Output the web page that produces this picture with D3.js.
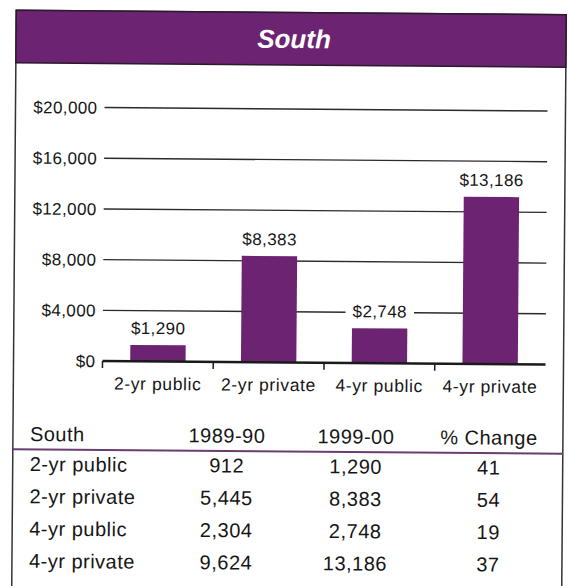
<!DOCTYPE html>
<meta charset="utf-8" />
<style>
  body { margin: 0; background: #fff; }
  text { font-family: "Liberation Sans", Arial, Helvetica, sans-serif; fill: #161616; }
</style>
<svg width="569" height="586"></svg>
<script src="https://d3js.org/d3.v7.min.js"></script>
<script>
    // data
    var categories = ["2-yr public", "2-yr private", "4-yr public", "4-yr private"];
    var tuition8990 = [912, 5445, 2304, 9624];
    var tuition9900 = [1290, 8383, 2748, 13186];
    var pctChange = [41, 54, 19, 37];
    var yTicks = [0, 4000, 8000, 12000, 16000, 20000];
    var tableHeader = ["South", "1989-90", "1999-00", "% Change"];
    var title = "South";

    var svg = d3.select("svg");
    var purple = "#6c2371";

    // the scan is a little tilted, so everything sits in one rotated group
    var root = svg.append("g").attr("transform", "rotate(0.45,290,300)");

    // frame + header band
    root.append("rect")
        .attr("x", 14).attr("y", 12.5)
        .attr("width", 550).attr("height", 620)
        .attr("fill", "none").attr("stroke", "#333").attr("stroke-width", 1.5);

    root.append("rect")
        .attr("x", 14).attr("y", 12.5)
        .attr("width", 550).attr("height", 52.5)
        .attr("fill", purple).attr("stroke", "#2a1a2c").attr("stroke-width", 1.5);

    root.append("text")
        .attr("x", 292).attr("y", 48)
        .attr("text-anchor", "middle")
        .style("font-size", "26px").style("font-weight", "bold").style("font-style", "italic")
        .style("fill", "#fff")
        .text(title);

    // scales
    var x = d3.scaleBand()
        .domain(categories)
        .range([103, 546])
        .paddingInner(0.5)
        .paddingOuter(0.25);

    var y = d3.scaleLinear()
        .domain([0, 20000])
        .range([362.5, 109]);

    var money = function(v) { return "$" + d3.format(",")(v); };

    // gridlines + y labels
    var grid = root.append("g");
    grid.selectAll("line")
        .data(yTicks.slice(1))
        .enter()
        .append("line")
        .attr("x1", 103).attr("x2", 546)
        .attr("y1", function(d) { return y(d); })
        .attr("y2", function(d) { return y(d); })
        .attr("stroke", "#2b2b2b")
        .attr("stroke-width", 1.4);

    grid.selectAll("text")
        .data(yTicks)
        .enter()
        .append("text")
        .attr("x", 96)
        .attr("y", function(d) { return y(d); })
        .attr("dy", "0.36em")
        .attr("text-anchor", "end")
        .style("font-size", "17px").style("letter-spacing", "0.4px")
        .text(money);

    // bars
    var bars = root.append("g");
    bars.selectAll("rect")
        .data(categories)
        .enter()
        .append("rect")
        .attr("x", function(d) { return x(d); })
        .attr("width", x.bandwidth())
        .attr("y", function(d, i) { return y(tuition9900[i]); })
        .attr("height", function(d, i) { return y(0) - y(tuition9900[i]); })
        .attr("fill", purple);

    // value labels, white box so the gridline breaks around them
    var lab = root.append("g").selectAll("g")
        .data(categories)
        .enter()
        .append("g")
        .attr("transform", function(d, i) {
            return "translate(" + (x(d) + x.bandwidth() / 2) + "," + (y(tuition9900[i]) - 11) + ")";
        });

    lab.append("text")
        .attr("text-anchor", "middle")
        .style("font-size", "17px").style("letter-spacing", "0.4px")
        .text(function(d, i) { return money(tuition9900[i]); });

    lab.insert("rect", "text")
        .each(function() {
            var b = this.nextSibling.getBBox();
            d3.select(this)
                .attr("x", b.x - 7).attr("y", b.y)
                .attr("width", b.width + 14).attr("height", b.height);
        })
        .attr("fill", "#fff");

    // x axis baseline + ticks
    var ax = root.append("g");
    ax.append("line")
        .attr("x1", 103).attr("x2", 546)
        .attr("y1", y(0)).attr("y2", y(0))
        .attr("stroke", "#1a1a1a").attr("stroke-width", 2.6);

    ax.selectAll(".tick")
        .data(categories)
        .enter()
        .append("line")
        .attr("class", "tick")
        .attr("x1", function(d) { return x(d) - x.step() * x.paddingInner() / 2; })
        .attr("x2", function(d) { return x(d) - x.step() * x.paddingInner() / 2; })
        .attr("y1", y(0)).attr("y2", y(0) + 7)
        .attr("stroke", "#1a1a1a").attr("stroke-width", 1.5);

    ax.selectAll("text")
        .data(categories)
        .enter()
        .append("text")
        .attr("x", function(d) { return x(d) + x.bandwidth() / 2; })
        .attr("y", 391)
        .attr("text-anchor", "middle")
        .style("font-size", "17.5px").style("letter-spacing", "0.6px")
        .text(function(d) { return d; });

    // table under the chart
    var colX = [31, 228, 357, 490];
    var rows = categories.map(function(c, i) {
        return [c, d3.format(",")(tuition8990[i]), d3.format(",")(tuition9900[i]), pctChange[i]];
    });

    var table = root.append("g").style("font-size", "20px").style("letter-spacing", "0.5px");

    table.selectAll(".head")
        .data(tableHeader)
        .enter()
        .append("text")
        .attr("class", "head")
        .attr("x", function(d, i) { return colX[i]; })
        .attr("y", 443)
        .attr("text-anchor", function(d, i) { return i === 0 ? "start" : "middle"; })
        .text(function(d) { return d; });

    table.append("line")
        .attr("x1", 14).attr("x2", 564)
        .attr("y1", 451.5).attr("y2", 451.5)
        .attr("stroke", "#6b3c70").attr("stroke-width", 2);

    var tr = table.selectAll(".row")
        .data(rows)
        .enter()
        .append("g")
        .attr("class", "row")
        .attr("transform", function(d, i) { return "translate(0," + (473 + i * 32.3) + ")"; });

    tr.selectAll("text")
        .data(function(d) { return d; })
        .enter()
        .append("text")
        .attr("x", function(d, i) { return colX[i]; })
        .attr("text-anchor", function(d, i) { return i === 0 ? "start" : "middle"; })
        .text(function(d) { return d; });
</script>
